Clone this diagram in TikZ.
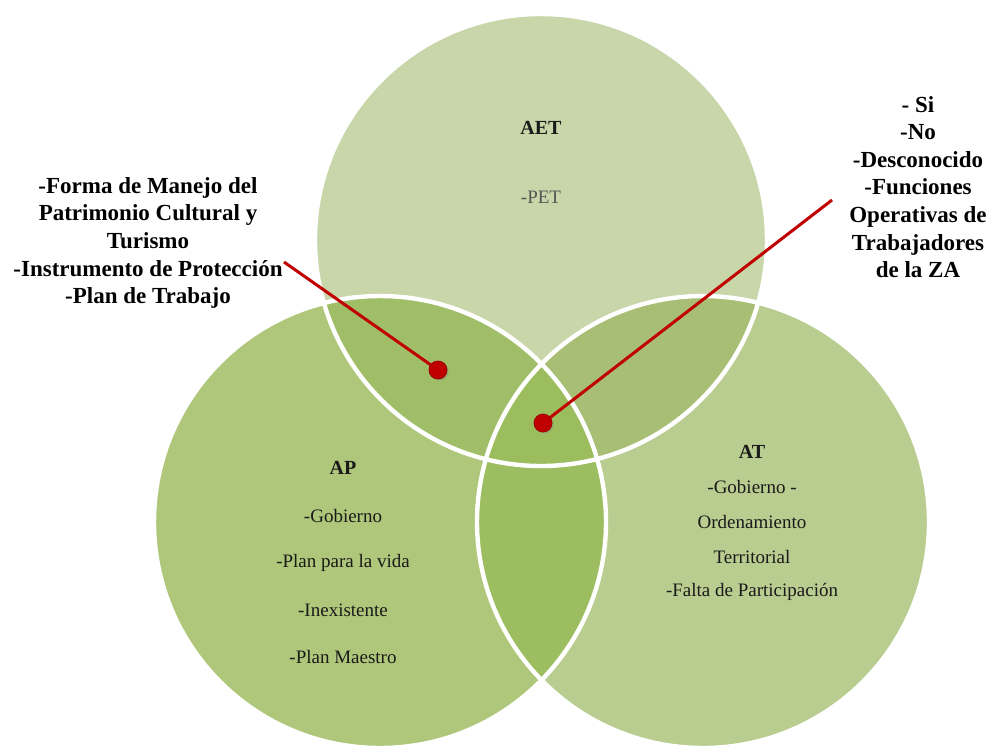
\documentclass[tikz,border=0pt]{standalone}
\usepackage{fontspec}
\setmainfont{Liberation Serif}
\usetikzlibrary{shadows}
\definecolor{topfill}{HTML}{C9D6AA}
\definecolor{leftfill}{HTML}{AFC77A}
\definecolor{rightfill}{HTML}{BACD90}
\definecolor{tlfill}{HTML}{A0BE68}
\definecolor{trfill}{HTML}{A8BE75}
\definecolor{lrfill}{HTML}{9DBE60}
\definecolor{midfill}{HTML}{9CBD5E}
\definecolor{pinred}{HTML}{C00000}
\definecolor{pinedge}{HTML}{9A0000}
\definecolor{txt}{HTML}{1A1A1A}
\definecolor{graytxt}{HTML}{555555}
\tikzset{
  setline/.style={white, line width=2.2pt},
  sidelabel/.style={align=center, text=black, font=\fontsize{11.5}{13.8}\selectfont\bfseries},
  settitle/.style={text=txt, font=\fontsize{10}{12}\selectfont\bfseries},
  setitem/.style={text=txt, font=\fontsize{9.5}{11}\selectfont},
  pin/.style={circle, fill=pinred, draw=pinedge, line width=0.4pt, minimum size=9pt, inner sep=0pt,
    drop shadow={shadow xshift=0.8pt, shadow yshift=-0.8pt, opacity=0.35}},
  pinline/.style={pinred, line width=1.5pt}
}
\begin{document}
\begin{tikzpicture}[x=0.5pt,y=-0.5pt]
\useasboundingbox (0,0) rectangle (995,745);
\clip (0,0) rectangle (995,745);
\def\R{226}
\coordinate (cT) at (541,240);
\coordinate (cL) at (380,522);
\coordinate (cR) at (703,522);

% the three sets
\fill[topfill] (cT) circle[radius=\R];
\fill[leftfill] (cL) circle[radius=\R];
\fill[rightfill] (cR) circle[radius=\R];

% pairwise overlaps
\begin{scope}
  \clip (cT) circle[radius=\R];
  \fill[tlfill] (cL) circle[radius=\R];
  \fill[trfill] (cR) circle[radius=\R];
\end{scope}
\begin{scope}
  \clip (cL) circle[radius=\R];
  \fill[lrfill] (cR) circle[radius=\R];
\end{scope}
% common region
\begin{scope}
  \clip (cT) circle[radius=\R];
  \clip (cL) circle[radius=\R];
  \fill[midfill] (cR) circle[radius=\R];
\end{scope}

% white outlines
\draw[setline] (cT) circle[radius=\R];
\draw[setline] (cL) circle[radius=\R];
\draw[setline] (cR) circle[radius=\R];

% set contents
\node[settitle] (aet) at (541,128) {AET};
\node[setitem, text=graytxt] (pet) at (541,197) {-PET};

\node[settitle] (ap) at (343,468) {AP};
\node[setitem] (ap1) at (343,516) {-Gobierno};
\node[setitem] (ap2) at (343,563) {-Plan para la vida};
\node[setitem] (ap3) at (343,610) {-Inexistente};
\node[setitem] (ap4) at (343,657) {-Plan Maestro};

\node[settitle] (at) at (752,452) {AT};
\node[setitem] (at1) at (752,487) {-Gobierno -};
\node[setitem] (at2) at (752,522) {Ordenamiento};
\node[setitem] (at3) at (752,557) {Territorial};
\node[setitem] (at4) at (752,592) {-Falta de Participación};

% callouts
\node[sidelabel] (lefttxt) at (148,243) {-Forma de Manejo del\\Patrimonio Cultural y\\Turismo\\-Instrumento de Protección\\-Plan de Trabajo};
\node[sidelabel] (righttxt) at (918,187) {- Si\\-No\\-Desconocido\\-Funciones\\Operativas de\\Trabajadores\\de la ZA};

\coordinate (e1) at (284,262);
\coordinate (e2) at (832,200);
\draw[pinline] (e1) -- (438,370);
\draw[pinline] (e2) -- (543,423);
\node[pin] (p1) at (438,370) {};
\node[pin] (p2) at (543,423) {};
\end{tikzpicture}
\end{document}
